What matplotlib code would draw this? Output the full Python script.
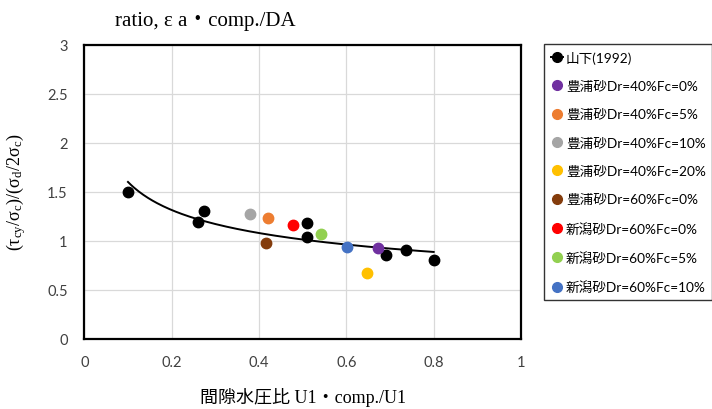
import matplotlib
matplotlib.use('Agg')
import matplotlib.pyplot as plt
from matplotlib.lines import Line2D
import numpy as np

plt.rcParams['mathtext.fontset'] = 'custom'
plt.rcParams['mathtext.rm'] = 'Liberation Serif'
plt.rcParams['mathtext.it'] = 'Liberation Serif'

# 山下(1992) data
yama_x = [0.10, 0.26, 0.275, 0.51, 0.51, 0.69, 0.737, 0.80]
yama_y = [1.50, 1.19, 1.30, 1.18, 1.04, 0.855, 0.90, 0.80]

# test series (one point each)
labels = ['豊浦砂Dr=40%Fc=0%', '豊浦砂Dr=40%Fc=5%', '豊浦砂Dr=40%Fc=10%',
          '豊浦砂Dr=40%Fc=20%', '豊浦砂Dr=60%Fc=0%', '新潟砂Dr=60%Fc=0%',
          '新潟砂Dr=60%Fc=5%', '新潟砂Dr=60%Fc=10%']
pts_x = [0.672, 0.420, 0.380, 0.648, 0.416, 0.478, 0.541, 0.602]
pts_y = [0.925, 1.235, 1.27, 0.667, 0.98, 1.16, 1.065, 0.94]
colors = ['#7030A0', '#ED7D31', '#A5A5A5', '#FFC000', '#843C0C', '#FF0000',
          '#92D050', '#4472C4']

serif = ['Liberation Serif', 'Noto Sans CJK JP']
sans = ['Lato', 'Noto Sans CJK JP']

fig = plt.figure(figsize=(7.12, 4.10), dpi=100)
ax = fig.add_axes([0.1184, 0.1715, 0.6133, 0.717])

# power trendline fitted on 山下 data
b, lna = np.polyfit(np.log(yama_x), np.log(yama_y), 1)
xs = np.linspace(min(yama_x), max(yama_x), 200)
ax.plot(xs, np.exp(lna) * xs ** b, color='black', lw=1.4, zorder=3)
ax.plot(yama_x, yama_y, 'o', color='black', ms=7.5, zorder=4)

handles = [Line2D([], [], color='black', marker='o', ms=7, lw=1.4)]
for x, y, c, lab in zip(pts_x, pts_y, colors, labels):
    ax.plot([x], [y], 'o', color=c, ms=7.5, zorder=4)
    handles.append(Line2D([], [], color=c, marker='o', ms=7, lw=0))

ax.set_xlim(0, 1)
ax.set_ylim(0, 3)
ax.set_xticks(np.arange(0, 1.01, 0.2))
ax.set_xticklabels(['0', '0.2', '0.4', '0.6', '0.8', '1'])
ax.set_yticks(np.arange(0, 3.01, 0.5))
ax.set_yticklabels(['0', '0.5', '1', '1.5', '2', '2.5', '3'])
ax.grid(True, color='#d9d9d9', lw=0.9)
ax.set_axisbelow(True)
for s in ax.spines.values():
    s.set_color('black')
    s.set_linewidth(1.6)
ax.tick_params(length=0, labelsize=10.5, labelcolor='#404040', pad=12)
for t in ax.get_xticklabels() + ax.get_yticklabels():
    t.set_family(sans)

ax.set_xlabel('間隙水圧比 U1・comp./U1', family=serif, fontsize=13, labelpad=13)
ax.set_ylabel(r'$\mathrm{(\tau_{cy}/\sigma_c)/(\sigma_d/2\sigma_c)}$', fontsize=13,
              labelpad=14, family='Liberation Serif')

fig.text(0.162, 0.948, 'ratio, ε a・comp./DA', family=serif, fontsize=15,
         ha='left', va='center')

leg = fig.legend(handles, ['山下(1992)'] + labels, loc='upper left',
                 bbox_to_anchor=(544 / 712, 1 - 45 / 410), prop={'family': sans, 'size': 9.8},
                 frameon=True, fancybox=False, edgecolor='black', labelspacing=1.2,
                 handlelength=0.9, handletextpad=0.2, borderpad=0.5, borderaxespad=0)
leg.get_frame().set_linewidth(1.0)
leg.get_frame().set_edgecolor('black')

fig.savefig('out.png', dpi=100)
